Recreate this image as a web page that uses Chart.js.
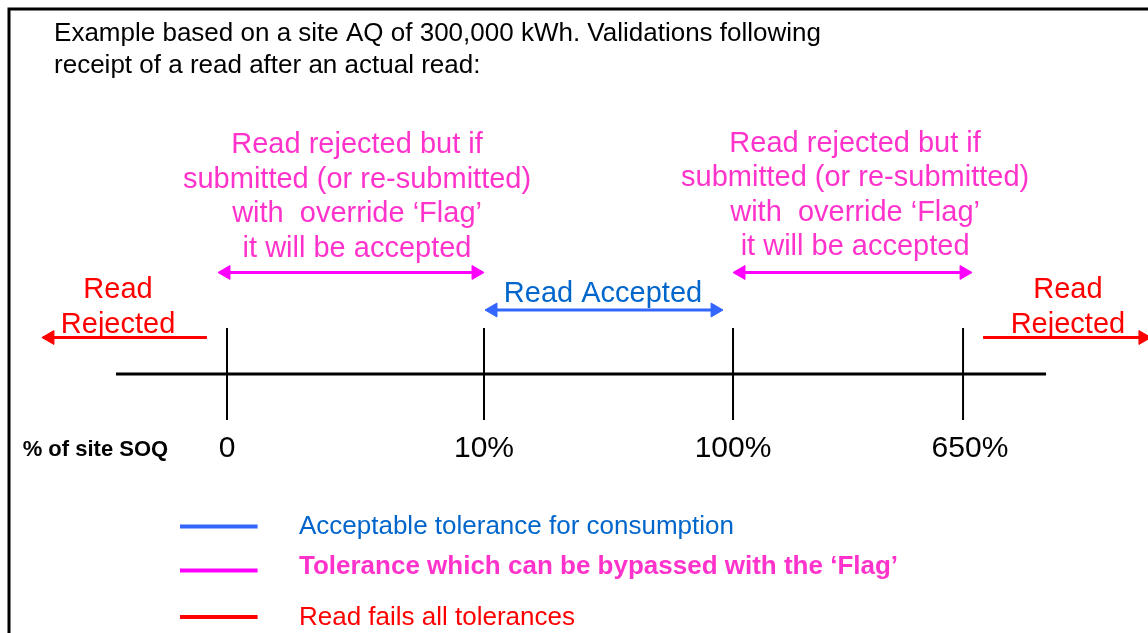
<!DOCTYPE html>
<html>
<head>
<meta charset="utf-8">
<script src="https://cdn.jsdelivr.net/npm/chart.js@4.4.1/dist/chart.umd.min.js"></script>
<style>
  html, body { margin: 0; background: #fff; }
  #wrap { width: 1148px; height: 633px; position: relative; }
</style>
</head>
<body>
<div id="wrap"><canvas id="chart"></canvas></div>
<script>
// thresholds on the "% of site SOQ" axis
const thresholdValues = [0, 10, 100, 650];
const thresholdLabels = ['0', '10%', '100%', '650%'];
// where each threshold sits along the diagram (x units, one unit = 0 -> 10%)
const thresholdPos = [0, 1, 1.969, 2.864];

const titleLines = [
  'Example based on a site AQ of 300,000 kWh. Validations following',
  'receipt of a read after an actual read:'
];
const flagText = [
  'Read rejected but if',
  'submitted (or re-submitted)',
  'with  override \u2018Flag\u2019',
  'it will be accepted'
];
const acceptedText = ['Read Accepted'];
const rejectedText = ['Read', 'Rejected'];
const axisTitle = '% of site SOQ';
const legendLabels = [
  'Acceptable tolerance for consumption',
  'Tolerance which can be bypassed with the \u2018Flag\u2019',
  'Read fails all tolerances'
];

const PINK = '#ff00ff', PINK_TEXT = '#ff33cc';
const BLUE = '#3366ff', BLUE_TEXT = '#0066cc';
const RED = '#ff0000';
const FONT = '"Liberation Sans", Arial, sans-serif';

// one straight segment, optional triangle heads at either end
function seg(x0, x1, y0, y1, color, width, heads) {
  const r = heads || [0, 0];
  const right = x1 >= x0;
  return {
    data: [{ x: x0, y: y0 }, { x: x1, y: y1 }],
    showLine: true,
    borderColor: color,
    borderWidth: width,
    borderCapStyle: 'butt',
    pointStyle: 'triangle',
    pointRadius: r,
    pointHoverRadius: r,
    pointRotation: [right ? -90 : 90, right ? 90 : -90],
    pointBackgroundColor: color,
    pointBorderColor: color,
    pointBorderWidth: 1
  };
}

const datasets = [];
// main axis and threshold ticks
datasets.push(seg(-0.432, 3.187, 374, 374, '#000', 3));
thresholdPos.forEach(p => datasets.push(seg(p, p, 328, 420, '#000', 2)));
// flag zones
datasets.push(seg(thresholdPos[0] - 0.004, thresholdPos[1] - 0.031, 272.5, 272.5, PINK, 3, [8, 8]));
datasets.push(seg(thresholdPos[2] + 0.031, thresholdPos[3] + 0.004, 272.5, 272.5, PINK, 3, [8, 8]));
// accepted zone
datasets.push(seg(thresholdPos[1] + 0.035, thresholdPos[2] - 0.07, 310, 310, BLUE, 3, [8, 8]));
// rejected zones
datasets.push(seg(-0.078, -0.689, 337.5, 337.5, RED, 3, [0, 8]));
datasets.push(seg(2.942, 3.564, 337.5, 337.5, RED, 3, [0, 8]));
// legend samples
const legendRows = [526.5, 570.5, 617];
[BLUE, PINK, RED].forEach((c, i) => datasets.push(seg(-0.183, 0.119, legendRows[i], legendRows[i], c, 4)));

// text placed in the same scale units (baseline y)
const texts = [
  { x: -0.673, y: 41, lh: 32, lines: titleLines, font: '26px ' + FONT, color: '#000', align: 'left' },
  { x: 0.506, y: 153.3, lh: 34.5, lines: flagText, font: '29px ' + FONT, color: PINK_TEXT },
  { x: 2.444, y: 151.7, lh: 34.4, lines: flagText, font: '29px ' + FONT, color: PINK_TEXT },
  { x: 1.463, y: 302, lh: 0, lines: acceptedText, font: '29px ' + FONT, color: BLUE_TEXT },
  { x: -0.424, y: 297.5, lh: 35, lines: rejectedText, font: '29px ' + FONT, color: RED },
  { x: 3.272, y: 297.5, lh: 35, lines: rejectedText, font: '29px ' + FONT, color: RED },
  { x: -0.795, y: 456, lh: 0, lines: [axisTitle], font: 'bold 22px ' + FONT, color: '#000', align: 'left' },
  { x: 0.28, y: 534, lh: 0, lines: [legendLabels[0]], font: '26px ' + FONT, color: BLUE_TEXT, align: 'left' },
  { x: 0.28, y: 574, lh: 0, lines: [legendLabels[1]], font: 'bold 26px ' + FONT, color: PINK_TEXT, align: 'left' },
  { x: 0.28, y: 625, lh: 0, lines: [legendLabels[2]], font: '26px ' + FONT, color: RED, align: 'left' }
];
thresholdLabels.forEach((lab, i) => {
  texts.push({ x: thresholdPos[i] + (i === 3 ? 0.027 : 0), y: 457, lh: 0, lines: [lab], font: '30px ' + FONT, color: '#000' });
});

const framePlugin = {
  id: 'frame',
  beforeDraw(chart) {
    const { ctx, width, height } = chart;
    ctx.save();
    ctx.fillStyle = '#fff';
    ctx.fillRect(0, 0, width, height);
    ctx.strokeStyle = '#000';
    ctx.lineWidth = 3;
    ctx.beginPath();
    ctx.moveTo(9, height);
    ctx.lineTo(9, 9);
    ctx.lineTo(width, 9);
    ctx.stroke();
    ctx.restore();
  }
};

const textPlugin = {
  id: 'diagramText',
  afterDraw(chart) {
    const { ctx, scales: { x, y } } = chart;
    ctx.save();
    ctx.textBaseline = 'alphabetic';
    texts.forEach(t => {
      ctx.font = t.font;
      ctx.fillStyle = t.color;
      ctx.textAlign = t.align || 'center';
      t.lines.forEach((line, i) => {
        ctx.fillText(line, x.getPixelForValue(t.x), y.getPixelForValue(t.y + i * t.lh));
      });
    });
    ctx.restore();
  }
};

new Chart(document.getElementById('chart'), {
  type: 'scatter',
  data: { datasets },
  options: {
    responsive: true,
    maintainAspectRatio: false,
    animation: false,
    events: [],
    layout: { padding: 0, autoPadding: false },
    plugins: { legend: { display: false }, tooltip: { enabled: false } },
    elements: { line: { tension: 0 } },
    scales: {
      x: { type: 'linear', display: false, min: -227 / 257, max: 921 / 257 },
      y: { type: 'linear', display: false, reverse: true, min: 0, max: 633 }
    }
  },
  plugins: [framePlugin, textPlugin]
});
</script>
</body>
</html>
